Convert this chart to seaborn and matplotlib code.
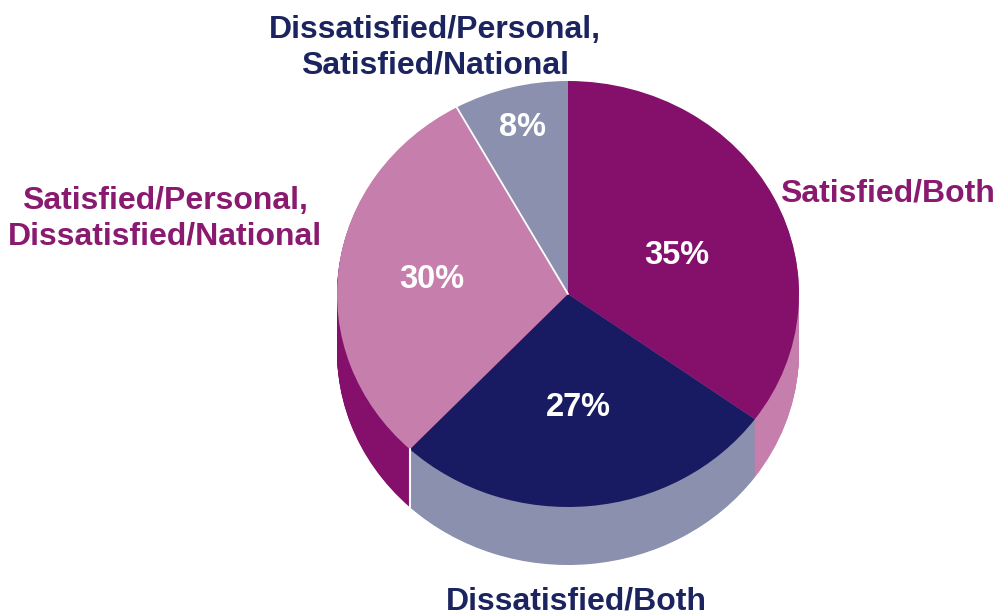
import numpy as np
import matplotlib
matplotlib.use("Agg")
import matplotlib.pyplot as plt
import seaborn as sns

# datos
categorias = ["Satisfied/Both", "Dissatisfied/Both",
              "Satisfied/Personal,\nDissatisfied/National",
              "Dissatisfied/Personal,\nSatisfied/National"]
valores = [35, 27, 30, 8]
etiquetas_pct = ["35%", "27%", "30%", "8%"]

colores_top = ["#84106C", "#191B62", "#C67FAC", "#8A90AE"]
colores_lado = ["#C67FAC", "#8A90AE", "#84106C", "#8A90AE"]
colores_texto = ["#8A1A70", "#1C2460", "#8A1A70", "#1C2460"]

sns.set_theme(style="white")
plt.rcParams["font.family"] = ["Liberation Sans", "DejaVu Sans"]

W, H = 999, 615
cx, cy = 568, 294   # centro en pixeles
rx, ry = 231, 213   # radios de la elipse
prof = 58 / ry      # alto del costado

fig = plt.figure(figsize=(W / 100, H / 100), dpi=100)
ax = fig.add_axes([0, 0, 1, 1])

# costado: pilas de tortas, de abajo hacia arriba
for d in np.linspace(prof, 0.004, 70):
    ax.pie(valores, colors=colores_lado, startangle=90, counterclock=False,
           center=(0, -d), radius=1, frame=True, wedgeprops={"linewidth": 0})

# tapa
ax.pie(valores, colors=colores_top, startangle=90, counterclock=False,
       center=(0, 0), radius=1, frame=True, wedgeprops={"linewidth": 0})

ax.set_aspect("auto")
ax.set_xlim(-cx / rx, (W - cx) / rx)
ax.set_ylim((cy - H) / ry, cy / ry)
ax.set_axis_off()

# lineas blancas de separacion
acum = np.cumsum(valores) / np.sum(valores)
ang = np.deg2rad(90 - 360 * acum)
ax.plot([0, np.cos(ang[2])], [0, np.sin(ang[2])], color="white", lw=1.3)
ax.plot([np.cos(ang[1])] * 2, [np.sin(ang[1]), np.sin(ang[1]) - prof],
        color="white", lw=1.5)


def px(x, y):
    return x / W, 1 - y / H


# textos de categoria
pos_cat = [(887, 193), (576, 601), (165, 219), (435, 48)]
for txt, c, (x, y) in zip(categorias, colores_texto, pos_cat):
    xf, yf = px(x, y)
    fig.text(xf, yf, txt, color=c, fontsize=23, fontweight="bold",
             ha="center", va="center", linespacing=1.25)

# porcentajes
pos_pct = [(677, 256), (578, 407), (432, 279), (522, 127)]
for txt, (x, y) in zip(etiquetas_pct, pos_pct):
    xf, yf = px(x, y)
    fig.text(xf, yf, txt, color="white", fontsize=23.5, fontweight="bold",
             ha="center", va="center")

fig.savefig("out.png", dpi=100)
